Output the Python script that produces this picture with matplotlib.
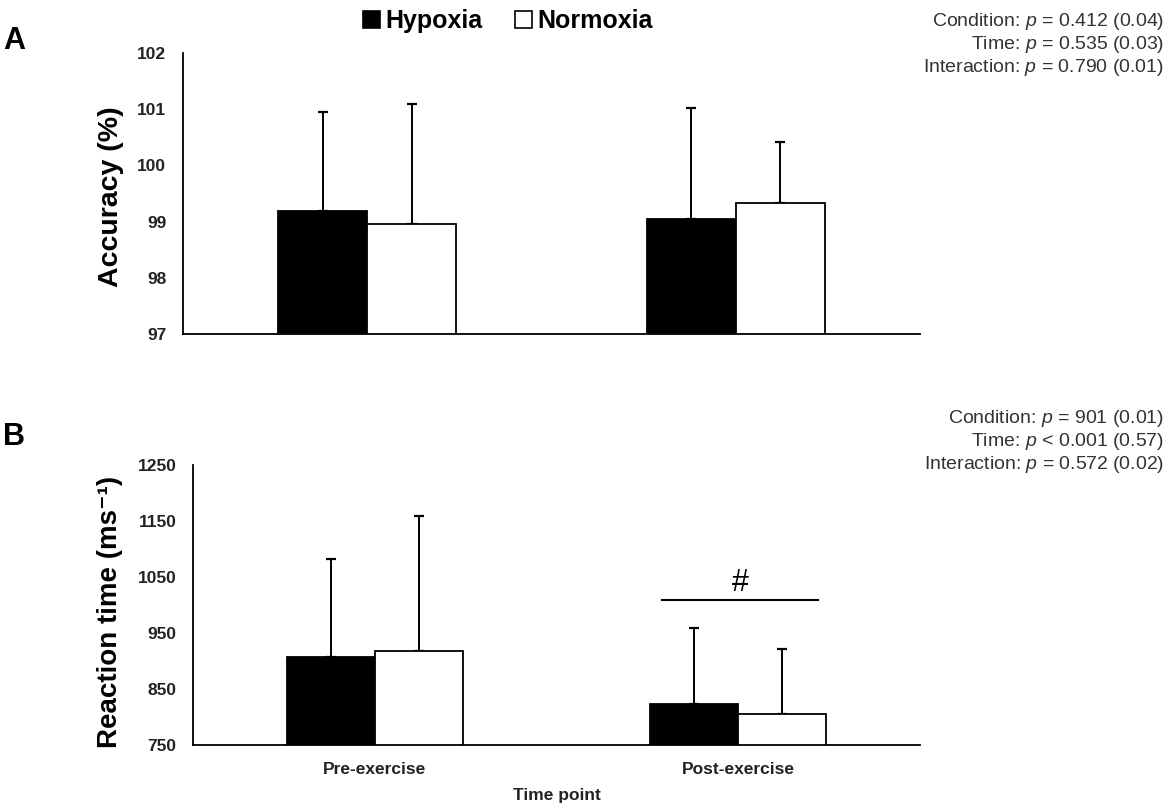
import numpy as np
import matplotlib
matplotlib.use("Agg")
import matplotlib.pyplot as plt
from matplotlib.patches import Patch

plt.rcParams['font.family'] = ['Liberation Sans', 'DejaVu Sans']
plt.rcParams['mathtext.fontset'] = 'custom'
plt.rcParams['mathtext.rm'] = 'Liberation Sans'
plt.rcParams['mathtext.it'] = 'Liberation Sans:italic'
plt.rcParams['mathtext.bf'] = 'Liberation Sans:bold'

# data (mean + SD)
time_points = ["Pre-exercise", "Post-exercise"]
conditions = ["Hypoxia", "Normoxia"]

acc_hypoxia = [99.19, 99.04]
acc_hypoxia_sd = [1.76, 1.98]
acc_normoxia = [98.96, 99.33]
acc_normoxia_sd = [2.13, 1.09]

rt_hypoxia = [908, 824]
rt_hypoxia_sd = [174, 135]
rt_normoxia = [918, 805]
rt_normoxia_sd = [241, 116]

acc_ticks = [97, 98, 99, 100, 101, 102]
rt_ticks = [750, 850, 950, 1050, 1150, 1250]

stats_a = ["Condition: $p$ = 0.412 (0.04)",
           "Time: $p$ = 0.535 (0.03)",
           "Interaction: $p$ = 0.790 (0.01)"]
stats_b = ["Condition: $p$ = 901 (0.01)",
           "Time: $p$ < 0.001 (0.57)",
           "Interaction: $p$ = 0.572 (0.02)"]

fig = plt.figure(figsize=(11.69, 8.09), dpi=100)
W, H = 1169, 809

def px_axes(left, right, top, bottom):
    return fig.add_axes([left / W, 1 - bottom / H, (right - left) / W, (bottom - top) / H])

ax_a = px_axes(183, 920, 53, 334)
ax_b = px_axes(193, 920, 465, 745)

x = np.array([0.5, 1.5])
w = 0.242

def draw_panel(ax, hyp, hyp_sd, nor, nor_sd, ticks):
    ax.bar(x - w / 2, hyp, w, color='black', edgecolor='black', linewidth=1.3, zorder=2)
    ax.bar(x + w / 2, nor, w, color='white', edgecolor='black', linewidth=1.3, zorder=2)
    ax.errorbar(x - w / 2, hyp, yerr=[np.zeros(2), hyp_sd], fmt='none', ecolor='black',
                elinewidth=1.4, capsize=3.5, capthick=1.6, zorder=1)
    ax.errorbar(x + w / 2, nor, yerr=[np.zeros(2), nor_sd], fmt='none', ecolor='black',
                elinewidth=1.4, capsize=3.5, capthick=1.6, zorder=1)
    ax.set_xlim(0, 2)
    ax.set_ylim(ticks[0], ticks[-1])
    ax.set_yticks(ticks)
    for s in ['top', 'right']:
        ax.spines[s].set_visible(False)
    for s in ['left', 'bottom']:
        ax.spines[s].set_linewidth(1.3)
    ax.tick_params(axis='both', length=0, pad=12, labelsize=12.5, labelcolor='#222222')
    for lab in ax.get_yticklabels():
        lab.set_fontweight('bold')

draw_panel(ax_a, acc_hypoxia, acc_hypoxia_sd, acc_normoxia, acc_normoxia_sd, acc_ticks)
ax_a.set_xticks([])
ax_a.set_ylabel("Accuracy (%)", fontsize=20.5, fontweight='bold')
ax_a.yaxis.set_label_coords(-0.080, 0.49)

draw_panel(ax_b, rt_hypoxia, rt_hypoxia_sd, rt_normoxia, rt_normoxia_sd, rt_ticks)
ax_b.set_xticks(x)
ax_b.set_xticklabels(time_points, fontweight='bold')
ax_b.set_xlabel("Time point", fontsize=12.5, fontweight='bold', labelpad=8, color='#222222')
ax_b.set_ylabel("Reaction time (ms\u207b\u00b9)", fontsize=20, fontweight='bold')
ax_b.yaxis.set_label_coords(-0.096, 0.475)

# significance bar over post-exercise
ax_b.plot([1.29, 1.72], [1009, 1009], color='black', linewidth=1.5)
ax_b.text(1.505, 1013, "#", ha='center', va='bottom', fontsize=22)

# panel letters
fig.text(3 / W, 1 - 41 / H, "A", fontsize=22, fontweight='bold', va='center', ha='left')
fig.text(3 / W, 1 - 437 / H, "B", fontsize=22, fontweight='bold', va='center', ha='left')

# stats text
for i, s in enumerate(stats_a):
    fig.text(1164 / W, 1 - (21.5 + 22.8 * i) / H, s, ha='right', va='center',
             fontsize=14, color='#333333')
for i, s in enumerate(stats_b):
    fig.text(1164 / W, 1 - (418.7 + 22.7 * i) / H, s, ha='right', va='center',
             fontsize=14, color='#333333')

handles = [Patch(facecolor='black', edgecolor='black', linewidth=1.2),
           Patch(facecolor='white', edgecolor='black', linewidth=1.2)]
fig.legend(handles, conditions, loc='center', bbox_to_anchor=(0.4345, 0.974),
           ncol=2, frameon=False, handlelength=0.68, handleheight=0.7,
           handletextpad=0.2, columnspacing=1.3, borderpad=0,
           prop={'size': 18, 'weight': 'bold'})

fig.savefig("out.png", dpi=100)
